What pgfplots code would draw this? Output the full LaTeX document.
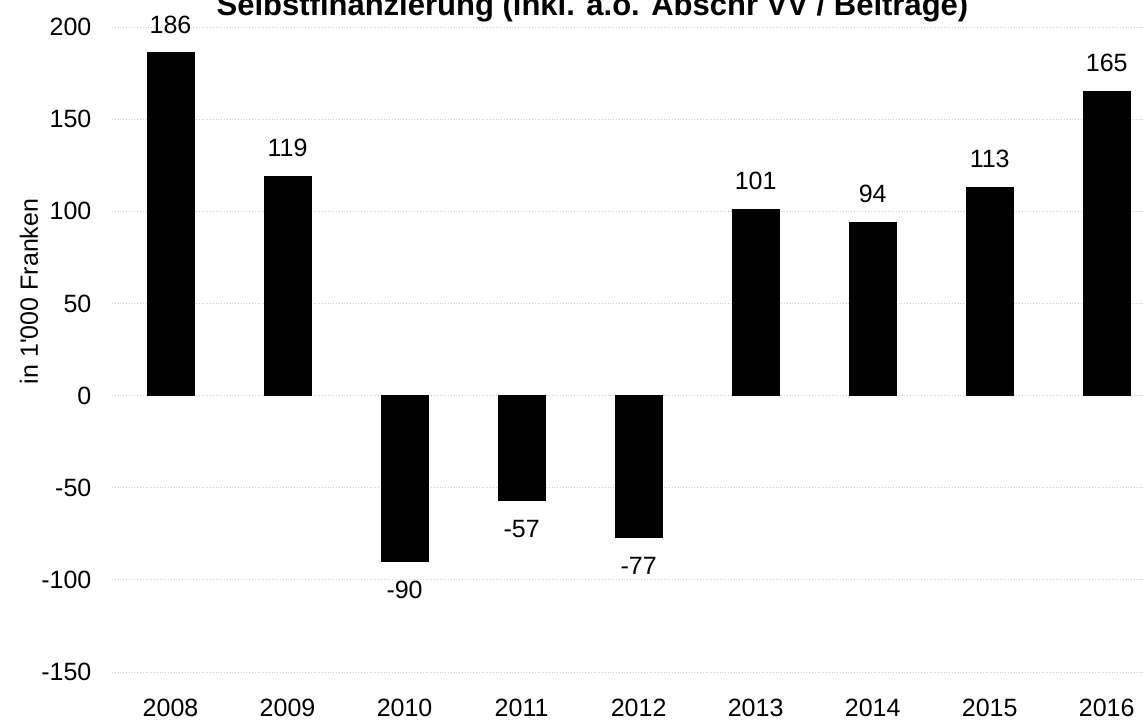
\documentclass[border=0pt]{standalone}
\usepackage{fontspec}
\setmainfont{Liberation Sans}
\usepackage{pgfplots}
\pgfplotsset{compat=1.18}
\begin{document}
\begin{tikzpicture}
\begin{axis}[
  scale only axis,
  width=515.5pt, height=322.5pt,
  xmin=-0.5, xmax=8.31,
  ymin=-150, ymax=200,
  ytick={-150,-100,-50,0,50,100,150,200},
  xtick={0,1,2,3,4,5,6,7,8},
  xticklabels={2008,2009,2010,2011,2012,2013,2014,2015,2016},
  axis line style={draw=none},
  major tick length=0pt,
  ymajorgrids,
  major grid style={gray!40, densely dotted},
  font=\fontsize{12.5}{14}\selectfont,
  /pgf/number format/assume math mode=true,
  yticklabel style={xshift=-6.8pt},
  xticklabel style={yshift=-9.8pt},
  clip=false,
]
\addplot[ybar, bar width=23.5pt, fill=black, draw=black,
  nodes near coords={\pgfmathprintnumber[assume math mode=true]{\pgfplotspointmeta}},
  nodes near coords align={vertical},
  every node near coord/.append style={inner xsep=0pt, inner ysep=9.5pt, font=\fontsize{12.5}{14}\selectfont}]
  coordinates {(0,186) (1,119) (2,-90) (3,-57) (4,-77) (5,101) (6,94) (7,113) (8,165)};
\node[anchor=base, font=\bfseries\fontsize{15.5}{18}\selectfont, yshift=5.5pt] at (rel axis cs:0.466,1) {Selbstfinanzierung (inkl. a.o. Abschr VV / Beiträge)};
\node[rotate=90, anchor=center, yshift=41.5pt, font=\fontsize{12.5}{14}\selectfont] at (rel axis cs:0,0.59) {in 1\textquotesingle000 Franken};
\end{axis}
\pgfresetboundingbox
\path ([xshift=-56pt,yshift=-25pt]current axis.south west) rectangle ([yshift=13.5pt]current axis.north east);
\end{tikzpicture}
\end{document}
